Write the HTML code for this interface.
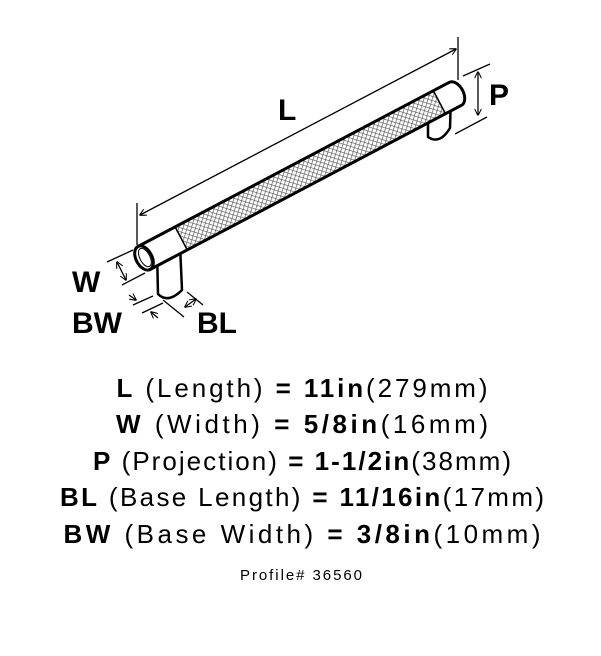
<!DOCTYPE html>
<html><head><meta charset="utf-8"><style>html,body{margin:0;padding:0;background:#fff}svg{display:block}</style></head>
<body>
<svg width="601" height="656" viewBox="0 0 601 656" xmlns="http://www.w3.org/2000/svg" font-family="Liberation Sans, sans-serif">
<defs>
<pattern id="kn" width="4" height="4" patternUnits="userSpaceOnUse" patternTransform="rotate(45)">
<rect width="4" height="4" fill="#fff"/>
<path d="M0 0H4M0 0V4" stroke="#555" stroke-width="1.3"/>
</pattern>
<marker id="ar" viewBox="0 0 10 10" refX="9" refY="5" markerWidth="7" markerHeight="7" orient="auto-start-reverse" markerUnits="userSpaceOnUse"><path d="M0 0L10 5L0 10" fill="none" stroke="#000" stroke-width="1.5"/></marker>
</defs>
<!-- posts -->
<g stroke="#000" stroke-width="2.5" fill="#fff">
<path d="M157 250 L158 294 Q168 304 182 290 L180 245 Z"/>
<path d="M428 100 L428 137 Q440 145 450 128 L451 95 Z"/>
</g>
<!-- bar -->
<g transform="translate(144,258) rotate(-27.8)">
<rect x="0" y="-13" width="352" height="26" fill="#fff"/>
<rect x="42" y="-13" width="292" height="26" fill="url(#kn)"/>
<path d="M0 -13 H352 A8 13 0 0 1 352 13 H0" fill="none" stroke="#000" stroke-width="3"/>
<line x1="42" y1="-13" x2="42" y2="13" stroke="#000" stroke-width="1.5"/>
<line x1="334" y1="-13" x2="334" y2="13" stroke="#000" stroke-width="1.5"/>
<ellipse cx="0" cy="0" rx="8" ry="13" fill="#fff" stroke="#000" stroke-width="3"/>
<ellipse cx="1" cy="0" rx="5" ry="10" fill="none" stroke="#000" stroke-width="1"/>
</g>
<!-- dimension lines -->
<g stroke="#000" stroke-width="1.3" fill="none">
<line x1="137" y1="203" x2="137" y2="245"/>
<line x1="458" y1="37" x2="458" y2="80"/>
<line x1="140" y1="215" x2="456" y2="49" marker-start="url(#ar)" marker-end="url(#ar)"/>
<line x1="463" y1="76" x2="490" y2="64"/>
<line x1="455" y1="134" x2="487" y2="117"/>
<line x1="478" y1="72" x2="478" y2="115" marker-start="url(#ar)" marker-end="url(#ar)"/>
<line x1="107" y1="262" x2="133" y2="250"/>
<line x1="122" y1="285" x2="145" y2="273"/>
<line x1="117" y1="262" x2="126" y2="280" marker-start="url(#ar)" marker-end="url(#ar)"/>
<line x1="133" y1="305" x2="153" y2="296"/>
<line x1="142" y1="313" x2="163" y2="303"/>
<line x1="129" y1="295" x2="136" y2="300" marker-end="url(#ar)"/>
<line x1="158" y1="318" x2="151" y2="312" marker-end="url(#ar)"/>
<line x1="163" y1="300" x2="184" y2="317"/>
<line x1="187" y1="292" x2="203" y2="305"/>
<line x1="185" y1="307" x2="196" y2="299" marker-start="url(#ar)" marker-end="url(#ar)"/>
</g>
<g font-weight="bold" font-size="30" fill="#000">
<text x="278" y="120">L</text>
<text x="489" y="105">P</text>
<text x="72" y="292">W</text>
<text x="72" y="333">BW</text>
<text x="197" y="333">BL</text>
</g>
<g font-size="26" fill="#000" text-anchor="middle">
<text x="302" y="397" textLength="371" lengthAdjust="spacing"><tspan font-weight="bold">L</tspan> (Length) <tspan font-weight="bold">= 11in</tspan>(279mm)</text>
<text x="302" y="433" textLength="372" lengthAdjust="spacing"><tspan font-weight="bold">W</tspan> (Width) <tspan font-weight="bold">= 5/8in</tspan>(16mm)</text>
<text x="302" y="470" textLength="418" lengthAdjust="spacing"><tspan font-weight="bold">P</tspan> (Projection) <tspan font-weight="bold">= 1-1/2in</tspan>(38mm)</text>
<text x="302" y="506" textLength="484" lengthAdjust="spacing"><tspan font-weight="bold">BL</tspan> (Base Length) <tspan font-weight="bold">= 11/16in</tspan>(17mm)</text>
<text x="302" y="543" textLength="477" lengthAdjust="spacing"><tspan font-weight="bold">BW</tspan> (Base Width) <tspan font-weight="bold">= 3/8in</tspan>(10mm)</text>
<text x="301" y="580" font-size="15" textLength="122" lengthAdjust="spacing">Profile# 36560</text>
</g>
</svg>
</body></html>
